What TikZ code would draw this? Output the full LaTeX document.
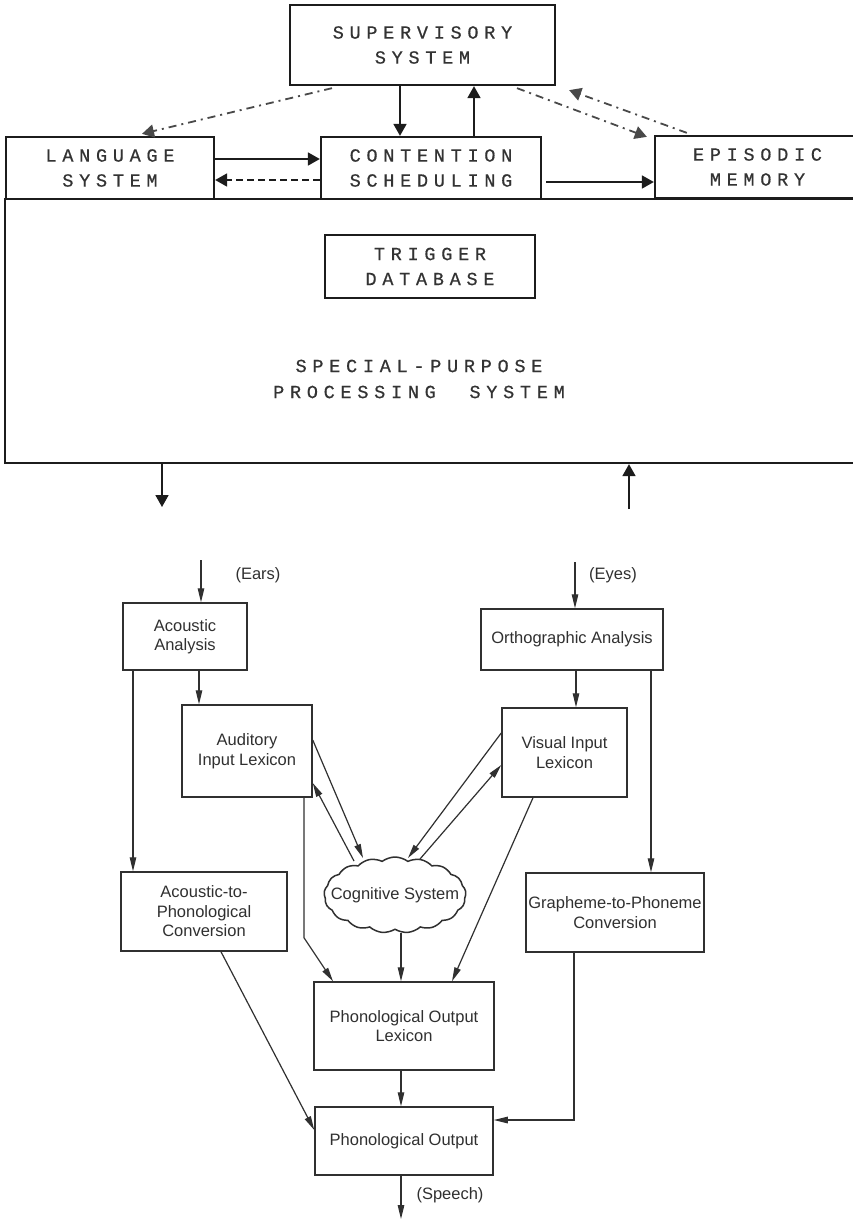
\documentclass[tikz,border=0pt]{standalone}
\usepackage{fontspec}
\setmainfont{Liberation Sans}
\newfontfamily\typefont[LetterSpace=31,FakeBold=0.6]{Liberation Mono}
\usetikzlibrary{arrows.meta,shapes.symbols,calc}
\definecolor{ink}{HTML}{1C1C1C}
\definecolor{typeink}{HTML}{333333}
\definecolor{pencil}{HTML}{303030}

\tikzset{
  % upper (attention) model
  ubox/.style={draw=ink, line width=2.3pt, fill=white, inner sep=0pt,
    align=center, text=typeink,
    font=\typefont\fontsize{18.5}{25}\selectfont},
  utext/.style={inner sep=0pt, align=center, text=typeink,
    font=\typefont\fontsize{18.5}{26}\selectfont},
  uarrow/.style={draw=ink, line width=1.8pt,
    -{Triangle[length=12pt,width=13pt]}},
  udash/.style={uarrow, dashed, dash pattern=on 7pt off 4pt},
  udashdot/.style={uarrow, draw=ink!80, dash pattern=on 8pt off 5pt on 2pt off 5pt},
  % lower (dual-route reading) model
  lbox/.style={draw=pencil, line width=1.5pt, inner sep=0pt,
    align=center, text=pencil,
    font=\fontsize{16.5}{19.5}\selectfont},
  ltext/.style={inner sep=0pt, text=pencil, font=\fontsize{16.5}{19}\selectfont},
  larrow/.style={draw=pencil, line width=1.2pt,
    -{Triangle[length=14pt,width=6.5pt]}},
}

\begin{document}
\begin{tikzpicture}[x=1pt,y=-1pt]
\useasboundingbox (0,0) rectangle (853,1219);
\clip (0,0) rectangle (853,1219);
\fill[white] (0,0) rectangle (853,1219);

% ---------- upper model ----------
\node[ubox, minimum width=855pt, minimum height=264pt] (big) at (432.5,331) {};
\node[utext] (spps) at (419,379) {SPECIAL-PURPOSE\\PROCESSING\ \ SYSTEM};
\node[ubox, line width=1.8pt, minimum width=210pt, minimum height=63pt] (trig) at (430,266.5) {TRIGGER\\DATABASE};

\node[ubox, minimum width=265pt, minimum height=80pt] (sup) at (422.5,45) {SUPERVISORY\\SYSTEM};
\node[ubox, minimum width=208pt, minimum height=62pt] (lang) at (110,168) {LANGUAGE\\SYSTEM};
\node[ubox, minimum width=220pt, minimum height=62pt] (cont) at (431,168) {CONTENTION\\SCHEDULING};
\node[ubox, minimum width=205pt, minimum height=62pt] (epi) at (757.5,167) {EPISODIC\\MEMORY};

\draw[uarrow] ($(sup.south)+(-22.5,0)$) -- ($(cont.north)+(-31,0)$);
\draw[uarrow] ($(cont.north)+(43,0)$) -- ($(sup.south)+(51.5,0)$);
\draw[uarrow] ($(lang.east)+(0,-9)$) -- ($(cont.west)+(0,-9)$);
\draw[udash] ($(cont.west)+(0,12)$) -- ($(lang.east)+(0,12)$);
\draw[uarrow] ($(cont.east)+(4,14)$) -- ($(epi.west)+(0,15)$);

\draw[udashdot] ($(sup.south)+(-90.5,2)$) -- ($(lang.north)+(32,-2)$);
\draw[udashdot] ($(sup.south)+(94.5,2)$) -- ($(epi.north west)+(-7,2)$);
\draw[udashdot] ($(epi.north west)+(33,-2)$) -- ($(sup.south east)+(13,4)$);

\coordinate (spout) at (162,507);
\coordinate (spin) at (629,509);
\draw[uarrow] (big.south -| spout) -- (spout);
\draw[uarrow] (spin) -- (spin |- big.south);

% ---------- lower model ----------
\node[lbox, minimum width=124pt, minimum height=67pt] (aa) at (185,636.5) {Acoustic\\Analysis};
\node[lbox, minimum width=182pt, minimum height=61pt] (oa) at (572,639.5) {Orthographic Analysis};
\node[lbox, minimum width=130pt, minimum height=92pt] (ail) at (247,751) {Auditory\\Input Lexicon};
\node[lbox, minimum width=125pt, minimum height=89pt] (vil) at (564.5,752.5) {Visual Input\\Lexicon};
\node[lbox, minimum width=166pt, minimum height=79pt] (atp) at (204,911.5) {Acoustic-to-\\Phonological\\Conversion};
\node[lbox, minimum width=178pt, minimum height=79pt] (gtp) at (615,912.5) {Grapheme-to-Phoneme\\Conversion};
% the cloud outline is drawn without text so that its size follows the minimums
\node[lbox, cloud, cloud puffs=17, cloud puff arc=75, cloud ignores aspect,
      minimum width=142pt, minimum height=76pt] (cog) at (395,895) {};
\node[ltext] (cogtxt) at (cog.center) {Cognitive System};
\node[lbox, minimum width=180pt, minimum height=88pt] (pol) at (404,1026) {Phonological Output\\Lexicon};
\node[lbox, minimum width=178pt, minimum height=68pt] (po) at (404,1141) {Phonological Output};

\coordinate (ears) at (201,560);
\coordinate (eyes) at (575,562);
\coordinate (speech) at (401,1219);
\node[ltext] (earslbl) at (258,575) {(Ears)};
\node[ltext] (eyeslbl) at (613,575) {(Eyes)};
\node[ltext] (speechlbl) at (450,1195) {(Speech)};

\draw[larrow] (ears) -- (ears |- aa.north);
\draw[larrow] (eyes) -- (eyes |- oa.north);
\draw[larrow] ($(aa.south)+(14,0)$) -- ($(ail.north)+(-48,0)$);
\draw[larrow] ($(aa.south)+(-52,0)$) -- ($(atp.north)+(-71,0)$);
\draw[larrow] ($(oa.south)+(4,0)$) -- ($(vil.north)+(11.5,0)$);
\draw[larrow] ($(oa.south)+(79,0)$) -- ($(gtp.north)+(36,0)$);

\draw[larrow] ($(ail.east)+(0,-11)$) -- ($(cog.center)+(-32,-37)$);
\draw[larrow] ($(cog.center)+(-41,-34)$) -- ($(ail.east)+(0,32)$);
\draw[larrow] ($(vil.west)+(0,-19.5)$) -- ($(cog.center)+(13,-37)$);
\draw[larrow] ($(cog.center)+(25,-36)$) -- ($(vil.west)+(0,12.5)$);

\draw[larrow] ($(ail.south)+(57,0)$) -- ($(ail.south)+(57,140)$) -- ($(pol.north)+(-71,0)$);
\draw[larrow] ($(cog.center)+(6,38)$) -- ($(pol.north)+(-3,0)$);
\draw[larrow] ($(vil.south)+(-31.5,0)$) -- ($(pol.north)+(48,0)$);

\draw[larrow] ($(atp.south)+(17,0)$) -- ($(po.west)+(0,-11)$);
\draw[larrow] ($(gtp.south)+(-41,0)$) |- ($(po.east)+(0,-21)$);
\draw[larrow] ($(pol.south)+(-3,0)$) -- ($(po.north)+(-3,0)$);
\draw[larrow] ($(po.south)+(-3,0)$) -- (speech);
\end{tikzpicture}
\end{document}
